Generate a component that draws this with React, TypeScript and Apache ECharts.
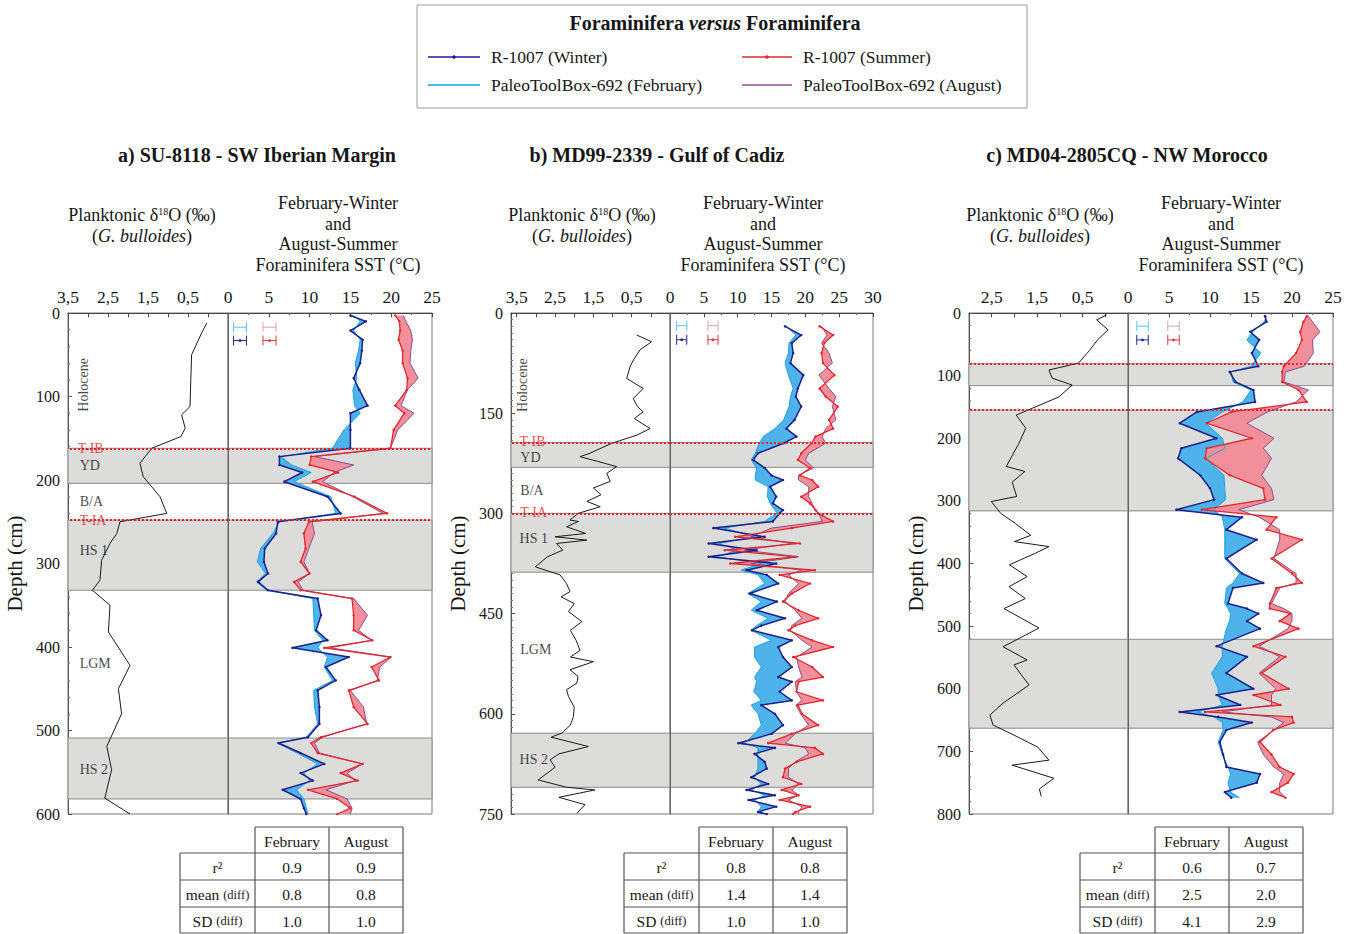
import React, { useEffect, useRef } from "react";
import * as echarts from "echarts";

const FONT = "'Liberation Serif', 'Times New Roman', Times, serif";

// ---------------- Panel a : SU-8118 ----------------
const sstDepthA = [3, 10, 21, 32, 45, 60, 78, 92, 111, 120, 140, 162, 172, 182, 191, 202, 220, 240, 250, 264, 282, 298, 312, 322, 332, 342, 362, 380, 392, 401, 412, 424, 440, 452, 472, 492, 508, 515, 527, 540, 551, 560, 571, 582, 593, 600];
const winterA = [15.0, 16.9, 15.0, 16.5, 16.4, 16.2, 15.4, 16.1, 17.1, 15.0, 15.0, 15.0, 6.3, 6.3, 9.1, 6.9, 12.2, 13.8, 6.1, 5.9, 4.5, 4.4, 4.9, 3.7, 4.9, 11.0, 11.4, 10.8, 12.2, 7.9, 14.8, 12.0, 13.2, 11.0, 11.2, 11.2, 9.8, 6.2, 8.9, 11.8, 8.9, 10.4, 6.7, 8.9, 9.3, 9.6];
const febA = [15.4, 16.2, 15.4, 16.2, 16.0, 15.6, 15.8, 15.3, 15.5, 16.2, 14.2, 12.8, 6.5, 7.8, 10.2, 8.1, 12.6, 13.2, 6.3, 5.5, 4.0, 3.6, 4.6, 3.5, 4.7, 10.4, 10.5, 10.6, 11.6, 11.0, 12.2, 11.8, 12.8, 10.5, 10.6, 11.0, 9.6, 6.0, 8.5, 11.0, 9.3, 10.0, 8.4, 9.3, 9.6, 9.8];
const summerA = [20.5, 21.0, 21.1, 20.9, 21.4, 21.4, 22.0, 21.9, 20.5, 21.6, 20.3, 19.9, 10.2, 10.0, 13.5, 10.4, 15.5, 19.5, 9.9, 9.3, 9.5, 8.9, 10.0, 8.1, 8.9, 15.2, 15.4, 15.4, 17.7, 11.8, 19.9, 17.6, 18.5, 14.8, 15.4, 17.1, 11.4, 10.2, 11.0, 16.5, 13.8, 15.9, 9.8, 13.4, 15.0, 13.4];
const augustA = [21.5, 21.8, 22.4, 22.6, 22.4, 22.3, 23.3, 22.0, 21.2, 22.8, 20.8, 19.9, 10.6, 15.4, 13.0, 11.6, 15.3, 19.0, 10.3, 10.6, 9.9, 9.3, 10.0, 8.6, 9.2, 15.4, 17.1, 16.0, 17.6, 12.5, 20.0, 18.6, 18.3, 15.0, 16.6, 17.0, 11.6, 10.6, 11.2, 16.5, 14.6, 15.6, 12.0, 14.6, 15.2, 15.0];
const d18DepthA = [12, 24, 50, 80, 112, 122, 138, 148, 162, 180, 196, 220, 240, 250, 264, 276, 296, 320, 332, 350, 382, 422, 450, 480, 519, 547, 581, 600];
const d18A = [0.03, 0.16, 0.41, 0.43, 0.45, 0.66, 0.57, 0.68, 1.41, 1.70, 1.62, 1.20, 1.03, 2.20, 2.28, 2.45, 2.66, 2.70, 2.89, 2.45, 2.49, 1.95, 2.24, 2.16, 2.53, 2.41, 2.58, 1.95];
const bandsA = [[162, 204], [248, 332], [509, 582]];
const terminationsA = [162, 248];
const bandLabelsA = ["Holocene", "T-IB", "YD", "B/A", "T-IA", "HS 1", "LGM", "HS 2"];
const bandLabelDepthA = [86, 162, 183, 226, 249, 284, 420, 547];
const bandLabelXA = [3.125, 3.27, 3.22, 3.22, 3.22, 3.22, 3.22, 3.22];

// ---------------- Panel b : MD99-2339 ----------------
const sstDepthB = [20, 33, 45, 60, 75, 93, 113, 125, 140, 160, 173, 185, 195, 210, 220, 232, 243, 250, 260, 275, 285, 295, 300, 312, 322, 335, 345, 355, 365, 375, 385, 392, 405, 420, 432, 445, 457, 468, 475, 490, 500, 515, 530, 545, 552, 567, 580, 587, 600, 617, 630, 644, 651, 660, 672, 682, 695, 705, 714, 722, 729, 739, 747, 750];
const winterB = [17.0, 19.4, 18.0, 18.2, 17.8, 19.7, 18.9, 18.6, 19.4, 18.4, 17.2, 18.7, 16.8, 13.0, 12.3, 14.0, 15.0, 16.7, 14.8, 15.7, 15.2, 16.7, 16.2, 15.2, 6.4, 14.0, 5.7, 12.8, 5.7, 15.7, 11.3, 14.3, 16.0, 11.8, 15.8, 12.8, 17.0, 13.5, 12.1, 18.0, 16.0, 16.7, 18.0, 16.0, 18.0, 16.2, 18.0, 13.5, 15.5, 16.7, 15.0, 10.1, 15.5, 12.5, 14.0, 14.3, 12.0, 14.5, 11.3, 15.5, 11.6, 15.7, 13.0, 14.3];
const febB = [17.2, 18.6, 17.6, 17.5, 17.0, 17.5, 18.2, 17.8, 17.6, 16.8, 15.5, 13.8, 13.2, 12.6, 12.0, 12.8, 12.6, 12.6, 14.5, 14.4, 14.8, 15.5, 15.8, 14.0, 8.0, 12.5, 7.2, 10.0, 7.0, 13.5, 10.5, 13.0, 14.0, 11.5, 13.5, 12.0, 14.5, 12.8, 12.0, 15.0, 12.5, 12.5, 13.5, 12.5, 12.8, 12.4, 13.5, 12.0, 13.0, 13.5, 12.5, 11.0, 13.0, 13.0, 13.0, 13.0, 12.5, 13.5, 12.0, 14.0, 12.5, 13.5, 13.0, 13.5];
const summerB = [22.1, 24.1, 22.8, 22.4, 22.6, 24.3, 22.1, 23.0, 24.8, 23.5, 24.1, 21.5, 20.9, 19.4, 18.9, 20.7, 19.2, 21.0, 21.9, 19.4, 20.7, 21.5, 21.9, 24.1, 18.0, 9.6, 19.2, 8.1, 18.5, 8.9, 21.4, 16.2, 20.7, 18.0, 16.7, 19.0, 21.9, 18.5, 17.5, 21.0, 24.1, 18.2, 21.0, 22.6, 19.0, 18.7, 22.6, 18.9, 19.5, 21.9, 18.0, 14.5, 21.4, 22.6, 18.7, 17.0, 16.7, 19.4, 16.5, 19.0, 16.2, 20.7, 18.5, 18.2];
const augustB = [22.4, 23.2, 22.4, 23.5, 24.0, 22.0, 23.5, 24.5, 24.0, 24.5, 23.0, 22.5, 23.0, 20.5, 20.0, 21.2, 19.0, 19.0, 20.5, 20.5, 21.0, 21.5, 22.0, 22.5, 15.0, 12.0, 18.0, 11.0, 19.0, 12.0, 19.5, 17.5, 19.0, 17.5, 17.0, 18.5, 19.5, 18.0, 17.8, 19.5, 21.0, 18.7, 19.0, 19.5, 18.5, 18.7, 19.5, 18.6, 19.3, 20.5, 18.5, 17.0, 20.0, 20.5, 18.5, 17.5, 17.5, 19.0, 18.0, 19.0, 17.5, 19.5, 19.0, 19.0];
const d18DepthB = [33, 43, 55, 70, 80, 98, 113, 128, 140, 148, 158, 173, 183, 195, 210, 215, 222, 230, 240, 252, 262, 272, 282, 290, 300, 310, 312, 320, 330, 335, 340, 345, 355, 365, 380, 392, 405, 417, 425, 435, 447, 462, 475, 490, 505, 515, 522, 534, 544, 554, 564, 574, 590, 604, 617, 629, 635, 649, 660, 669, 680, 699, 710, 714, 725, 736, 749];
const d18B = [0.37, -0.02, 0.28, 0.45, 0.54, 0.63, 0.2, 0.46, 0.35, 0.2, 0.43, 0.02, 0.37, 1.02, 1.59, 1.85, 1.4, 0.89, 1.15, 1.06, 1.5, 1.3, 1.67, 1.32, 1.9, 2.11, 1.89, 2.2, 1.7, 2.5, 1.67, 2.46, 2.3, 2.7, 3.02, 2.37, 2.2, 2.11, 2.34, 2.0, 2.15, 1.8, 2.1, 1.95, 1.85, 2.1, 1.5, 2.11, 1.9, 1.93, 2.2, 2.15, 2.0, 2.02, 2.1, 2.33, 2.6, 1.63, 2.4, 2.63, 2.5, 2.94, 2.2, 1.46, 2.4, 1.72, 1.93];
const bandsB = [[194, 231], [300, 388], [629, 710]];
const terminationsB = [194, 300];
const bandLabelsB = ["Holocene", "T-IB", "YD", "B/A", "T-IA", "HS 1", "LGM", "HS 2"];
const bandLabelDepthB = [108, 193, 216, 266, 299, 337, 504, 668];
const bandLabelXB = [3.34, 3.44, 3.42, 3.42, 3.42, 3.44, 3.42, 3.44];

// ---------------- Panel c : MD04-2805CQ ----------------
const sstDepthC = [5, 14, 30, 43, 64, 85, 94, 110, 123, 142, 158, 176, 200, 216, 232, 259, 280, 298, 314, 326, 346, 362, 392, 416, 431, 439, 464, 472, 480, 492, 504, 532, 549, 575, 600, 610, 626, 637, 645, 654, 666, 685, 705, 725, 736, 750, 765, 774];
const winterC = [16.7, 16.9, 14.9, 16.0, 15.1, 15.9, 12.4, 13.1, 15.3, 15.5, 8.4, 6.3, 10.8, 6.5, 6.1, 8.8, 10.0, 10.5, 5.9, 13.9, 12.0, 15.7, 12.0, 13.9, 16.5, 12.8, 12.2, 14.5, 15.9, 14.5, 16.1, 10.8, 14.5, 12.0, 15.3, 10.8, 13.7, 6.3, 11.0, 15.1, 12.0, 11.2, 11.6, 12.0, 16.1, 15.7, 11.8, 12.6];
const febC = [16.9, 16.6, 15.2, 14.5, 16.2, 15.0, 12.6, 12.8, 15.0, 14.0, 11.5, 9.5, 11.5, 11.8, 9.5, 11.7, 11.8, 11.9, 10.5, 11.5, 11.8, 11.8, 11.8, 13.6, 12.8, 12.0, 11.8, 12.2, 12.5, 12.4, 12.0, 11.5, 11.5, 10.2, 11.0, 11.0, 11.5, 8.5, 10.5, 11.5, 11.6, 11.0, 11.5, 12.2, 12.5, 12.2, 12.5, 13.6];
const summerC = [21.8, 21.4, 21.0, 21.2, 20.5, 19.0, 18.8, 18.8, 20.8, 21.8, 12.6, 9.6, 15.1, 9.6, 9.4, 12.4, 16.5, 16.7, 9.0, 18.1, 16.9, 21.2, 17.5, 20.0, 21.2, 18.1, 17.3, 17.3, 19.8, 18.5, 20.8, 15.3, 19.2, 16.3, 19.6, 15.3, 18.6, 9.4, 20.0, 20.2, 17.7, 16.1, 17.5, 18.5, 20.2, 19.5, 17.5, 19.2];
const augustC = [22.0, 22.5, 23.4, 22.5, 22.6, 21.5, 19.2, 19.0, 22.0, 20.5, 17.0, 14.5, 17.8, 16.5, 17.5, 16.3, 17.5, 17.8, 13.5, 16.0, 18.5, 18.5, 17.8, 20.5, 20.5, 18.5, 17.5, 19.0, 20.0, 20.0, 19.5, 16.0, 18.5, 16.0, 18.0, 17.5, 17.5, 11.5, 17.5, 19.0, 17.8, 15.8, 16.5, 17.8, 19.0, 18.5, 18.5, 19.2];
const d18DepthC = [3, 11, 27, 43, 60, 80, 91, 104, 115, 134, 163, 184, 208, 245, 253, 270, 293, 301, 320, 336, 355, 365, 373, 384, 402, 421, 437, 456, 472, 503, 533, 554, 562, 594, 623, 642, 658, 674, 693, 714, 722, 743, 760, 772];
const d18C = [-0.03, 0.19, -0.06, 0.17, 0.35, 0.59, 1.24, 1.17, 0.73, 1.02, 1.96, 1.75, 1.9, 2.18, 1.77, 2.05, 1.95, 2.51, 2.3, 1.98, 1.64, 2.0, 1.24, 1.55, 2.11, 1.72, 2.12, 1.76, 2.23, 1.46, 2.25, 1.72, 2.01, 1.68, 2.25, 2.54, 2.47, 2.01, 1.49, 1.24, 2.05, 1.13, 1.45, 1.41];
const bandsC = [[81, 116], [155, 316], [521, 663]];
const terminationsC = [81, 155];
const bandLabelsC: string[] = [];
const bandLabelDepthC: number[] = [];
const bandLabelXC: number[] = [];

// error-bar keys (centre °C, half width °C, depth cm): light blue, pink, dark blue, red
const errCentreA = [1.47, 5.09, 1.47, 5.09];
const errHalfA = [0.8, 0.8, 0.8, 0.8];
const errDepthA = [17, 17, 33, 33];
const errCentreB = [1.73, 6.35, 1.73, 6.35];
const errHalfB = [0.75, 0.75, 0.75, 0.75];
const errDepthB = [19, 19, 40, 40];
const errCentreC = [1.77, 5.55, 1.77, 5.55];
const errHalfC = [0.7, 0.7, 0.7, 0.7];
const errDepthC = [21, 21, 43, 43];

// ---------------- texts ----------------
const panelTitles = ["a) SU-8118 - SW Iberian Margin", "b) MD99-2339 - Gulf of Cadiz", "c) MD04-2805CQ - NW Morocco"];
const legendNames = ["R-1007 (Winter)", "R-1007 (Summer)", "PaleoToolBox-692 (February)", "PaleoToolBox-692 (August)"];
const tableCols = ["February", "August"];
const tableFebA = ["0.9", "0.8", "1.0"];
const tableAugA = ["0.9", "0.8", "1.0"];
const tableFebB = ["0.8", "1.4", "1.0"];
const tableAugB = ["0.8", "1.4", "1.0"];
const tableFebC = ["0.6", "2.5", "4.1"];
const tableAugC = ["0.7", "2.0", "2.9"];

const COL = {
  winter: "#1d2088",
  feb: "#1ba1e2",
  summer: "#e5262d",
  aug: "#8b4c91",
  blueFill: "#4db3ea",
  pinkFill: "#f18f9a",
  band: "#dcdcda",
  bandBorder: "#8c8c8c",
  red: "#e5262d",
  text: "#161616",
};
const errColors = ["#5fc2ee", "#d9a5ae", "#25288c", "#e5353b"];

const panels = [
  {
    dL: 68, dW: 160, sW: 204, dMax: 3.5, sMax: 25, depthMax: 600, depthInt: 100, minorSplit: 5,
    sstDepth: sstDepthA, winter: winterA, feb: febA, summer: summerA, aug: augustA,
    d18Depth: d18DepthA, d18: d18A, bands: bandsA, terms: terminationsA,
    labels: bandLabelsA, labelDepth: bandLabelDepthA, labelX: bandLabelXA,
    errC: errCentreA, errH: errHalfA, errD: errDepthA,
    titleX: 257, dTitleX: 142, sTitleX: 338, tableX: 180, tFeb: tableFebA, tAug: tableAugA,
  },
  {
    dL: 511, dW: 159, sW: 203, dMax: 3.65, sMax: 30, depthMax: 750, depthInt: 150, minorSplit: 15,
    sstDepth: sstDepthB, winter: winterB, feb: febB, summer: summerB, aug: augustB,
    d18Depth: d18DepthB, d18: d18B, bands: bandsB, terms: terminationsB,
    labels: bandLabelsB, labelDepth: bandLabelDepthB, labelX: bandLabelXB,
    errC: errCentreB, errH: errHalfB, errD: errDepthB,
    titleX: 657, dTitleX: 582, sTitleX: 763, tableX: 624, tFeb: tableFebB, tAug: tableAugB,
  },
  {
    dL: 969, dW: 159, sW: 205, dMax: 3.0, sMax: 25, depthMax: 800, depthInt: 100, minorSplit: 5,
    sstDepth: sstDepthC, winter: winterC, feb: febC, summer: summerC, aug: augustC,
    d18Depth: d18DepthC, d18: d18C, bands: bandsC, terms: terminationsC,
    labels: bandLabelsC, labelDepth: bandLabelDepthC, labelX: bandLabelXC,
    errC: errCentreC, errH: errHalfC, errD: errDepthC,
    titleX: 1127, dTitleX: 1040, sTitleX: 1221, tableX: 1080, tFeb: tableFebC, tAug: tableAugC,
  },
];

const TOP = 313;
const HEIGHT = 501;

const d18Fmt = (v: number) => {
  const r = Math.round(v * 10) / 10;
  return [0.5, 1.5, 2.5, 3.5].indexOf(r) >= 0 ? String(r).replace(".", ",") : "";
};

function profile(xi: number, depths: number[], vals: number[], color: string, width: number, dots: boolean, z: number) {
  return {
    type: "line",
    xAxisIndex: xi,
    yAxisIndex: xi,
    data: depths.map((d, i) => [vals[i], d]),
    symbol: dots ? "circle" : "none",
    symbolSize: 2.5,
    showSymbol: dots,
    showAllSymbol: true,
    lineStyle: { color, width },
    itemStyle: { color },
    z,
    silent: true,
    clip: true,
  };
}

function fillBetween(xi: number, depths: number[], a: number[], b: number[], color: string) {
  return {
    type: "custom",
    xAxisIndex: xi,
    yAxisIndex: xi,
    coordinateSystem: "cartesian2d",
    data: [[a[0], depths[0]]],
    encode: { x: 0, y: 1 },
    z: 2,
    silent: true,
    clip: true,
    renderItem: (_p: any, api: any) => {
      const pts: number[][] = [];
      for (let i = 0; i < depths.length; i++) pts.push(api.coord([a[i], depths[i]]));
      for (let i = depths.length - 1; i >= 0; i--) pts.push(api.coord([b[i], depths[i]]));
      return { type: "polygon", shape: { points: pts }, style: { fill: color, stroke: "none" } };
    },
  };
}

function errBars(xi: number, centres: number[], halves: number[], depths: number[]) {
  return {
    type: "custom",
    xAxisIndex: xi,
    yAxisIndex: xi,
    coordinateSystem: "cartesian2d",
    data: centres.map((c, i) => [c, depths[i], halves[i], i]),
    encode: { x: 0, y: 1 },
    z: 6,
    silent: true,
    renderItem: (_p: any, api: any) => {
      const c = api.value(0), d = api.value(1), h = api.value(2), k = api.value(3);
      const p0 = api.coord([c - h, d]);
      const p1 = api.coord([c + h, d]);
      const pc = api.coord([c, d]);
      const col = errColors[k];
      const st = { stroke: col, lineWidth: 1 };
      const children: any[] = [
        { type: "line", shape: { x1: p0[0], y1: p0[1], x2: p1[0], y2: p1[1] }, style: st },
        { type: "line", shape: { x1: p0[0], y1: p0[1] - 5, x2: p0[0], y2: p0[1] + 5 }, style: st },
        { type: "line", shape: { x1: p1[0], y1: p1[1] - 5, x2: p1[0], y2: p1[1] + 5 }, style: st },
      ];
      if (k >= 2) children.push({ type: "circle", shape: { cx: pc[0], cy: pc[1], r: 1.4 }, style: { fill: col } });
      return { type: "group", children };
    },
  };
}

function bandSeries(xi: number, bands: number[][], terms: number[]) {
  return {
    type: "line",
    xAxisIndex: xi,
    yAxisIndex: xi,
    data: [],
    z: 1,
    silent: true,
    markArea: {
      silent: true,
      itemStyle: { color: COL.band, borderColor: COL.bandBorder, borderWidth: 1 },
      label: { show: false },
      data: bands.map((b) => [{ yAxis: b[0] }, { yAxis: b[1] }]),
    },
    markLine: {
      silent: true,
      symbol: ["none", "none"],
      label: { show: false },
      lineStyle: { color: COL.red, type: "dotted", width: 2 },
      data: terms.map((t) => ({ yAxis: t })),
    },
  };
}

function labelSeries(xi: number, texts: string[], depths: number[], xs: number[]) {
  return {
    type: "scatter",
    xAxisIndex: xi,
    yAxisIndex: xi,
    symbol: "circle",
    symbolSize: 1,
    itemStyle: { color: "rgba(0,0,0,0)" },
    z: 7,
    silent: true,
    data: texts.map((t, i) => ({
      value: [xs[i], depths[i]],
      label: {
        show: true,
        formatter: t,
        position: t === "Holocene" ? "inside" : "right",
        distance: 0,
        rotate: t === "Holocene" ? 90 : 0,
        align: t === "Holocene" ? "center" : "left",
        verticalAlign: "middle",
        color: t.indexOf("T-") === 0 ? COL.red : COL.text,
        fontFamily: FONT,
        fontSize: 14,
      },
    })),
  };
}

function txt(x: number, y: number, text: string, extra: any = {}) {
  return {
    type: "text",
    x,
    y,
    silent: true,
    style: { text, fontFamily: FONT, fontSize: 17, fill: COL.text, align: "center", verticalAlign: "middle", ...extra },
  };
}

function hline(x1: number, x2: number, y: number, color = "#555") {
  return { type: "line", silent: true, shape: { x1, y1: y, x2, y2: y }, style: { stroke: color, lineWidth: 1.2 } };
}
function vline(x: number, y1: number, y2: number, color = "#555") {
  return { type: "line", silent: true, shape: { x1: x, y1, x2: x, y2 }, style: { stroke: color, lineWidth: 1.2 } };
}

function table(x0: number, feb: string[], aug: string[]) {
  const c1 = x0 + 75, c2 = c1 + 74, c3 = c2 + 74;
  const ys = [827, 853, 880, 907, 933];
  const els: any[] = [];
  els.push(hline(c1, c3, ys[0]));
  [c1, c2, c3].forEach((x) => els.push(vline(x, ys[0], ys[1])));
  for (let r = 1; r < 5; r++) els.push(hline(x0, c3, ys[r]));
  [x0, c1, c2, c3].forEach((x) => els.push(vline(x, ys[1], ys[4])));
  els.push(txt((c1 + c2) / 2, 841, tableCols[0], { fontSize: 15.5 }));
  els.push(txt((c2 + c3) / 2, 841, tableCols[1], { fontSize: 15.5 }));
  const rowLab = ["r²", "mean {s|(diff)}", "SD {s|(diff)}"];
  const rich = { s: { fontFamily: FONT, fontSize: 12.5, fill: COL.text } };
  for (let r = 0; r < 3; r++) {
    const yc = (ys[r + 1] + ys[r + 2]) / 2 + 1;
    els.push(txt((x0 + c1) / 2, yc, rowLab[r], { fontSize: 15.5, rich }));
    els.push(txt((c1 + c2) / 2, yc, feb[r], { fontSize: 15.5 }));
    els.push(txt((c2 + c3) / 2, yc, aug[r], { fontSize: 15.5 }));
  }
  return els;
}

function buildOption() {
  const grid: any[] = [];
  const xAxis: any[] = [];
  const yAxis: any[] = [];
  const series: any[] = [];
  const graphic: any[] = [];

  panels.forEach((p, k) => {
    const gi = k * 2;
    const gs = k * 2 + 1;
    grid.push({ left: p.dL, top: TOP, width: p.dW, height: HEIGHT, show: true, borderColor: "#7a7a7a", borderWidth: 1 });
    grid.push({ left: p.dL + p.dW, top: TOP, width: p.sW, height: HEIGHT, show: true, borderColor: "#7a7a7a", borderWidth: 1 });

    const axLabel = { fontFamily: FONT, fontSize: 17.5, color: COL.text, margin: 7 };
    xAxis.push({
      gridIndex: gi, type: "value", position: "top", min: -0.5, max: p.dMax, interval: 0.5, inverse: true,
      axisLine: { show: true, onZero: false, lineStyle: { color: "#444" } },
      axisTick: { show: true, inside: true, length: 4, lineStyle: { color: "#444" } },
      splitLine: { show: false },
      axisLabel: { ...axLabel, formatter: d18Fmt, showMinLabel: true, showMaxLabel: true },
    });
    xAxis.push({
      gridIndex: gs, type: "value", position: "top", min: 0, max: p.sMax, interval: 5,
      axisLine: { show: true, onZero: false, lineStyle: { color: "#444" } },
      axisTick: { show: true, inside: true, length: 4, lineStyle: { color: "#444" } },
      minorTick: { show: true, splitNumber: 2, length: 2, lineStyle: { color: "#666" } },
      splitLine: { show: false },
      axisLabel: { ...axLabel, showMinLabel: true, showMaxLabel: true },
    });
    yAxis.push({
      gridIndex: gi, type: "value", inverse: true, min: 0, max: p.depthMax, interval: p.depthInt, position: "left",
      name: "Depth (cm)", nameLocation: "middle", nameRotate: 90, nameGap: 43,
      nameTextStyle: { fontFamily: FONT, fontSize: 21, color: COL.text },
      axisLine: { show: true, onZero: false, lineStyle: { color: "#555" } },
      axisTick: { show: true, inside: true, length: 4, lineStyle: { color: "#555" } },
      minorTick: { show: true, splitNumber: p.minorSplit, length: 2, lineStyle: { color: "#777" } },
      splitLine: { show: false },
      axisLabel: { fontFamily: FONT, fontSize: 16, color: COL.text, margin: 8, showMinLabel: true, showMaxLabel: true },
    });
    yAxis.push({
      gridIndex: gs, type: "value", inverse: true, min: 0, max: p.depthMax, interval: p.depthInt, position: "left", z: 5,
      axisLine: { show: true, onZero: false, lineStyle: { color: "#666" } },
      axisTick: { show: false },
      axisLabel: { show: false },
      splitLine: { show: false },
    });

    series.push(bandSeries(gi, p.bands, p.terms));
    series.push(bandSeries(gs, p.bands, p.terms));
    series.push(profile(gi, p.d18Depth, p.d18, "#1a1a1a", 1, false, 4));
    if (p.labels.length) series.push(labelSeries(gi, p.labels, p.labelDepth, p.labelX));
    series.push(fillBetween(gs, p.sstDepth, p.winter, p.feb, COL.blueFill));
    series.push(fillBetween(gs, p.sstDepth, p.summer, p.aug, COL.pinkFill));
    series.push(profile(gs, p.sstDepth, p.feb, COL.feb, 1, false, 3));
    series.push(profile(gs, p.sstDepth, p.aug, COL.aug, 1, false, 3));
    series.push(profile(gs, p.sstDepth, p.winter, COL.winter, 1.5, true, 4));
    series.push(profile(gs, p.sstDepth, p.summer, COL.summer, 1.3, true, 4));
    series.push(errBars(gs, p.errC, p.errH, p.errD));

    // titles
    graphic.push(txt(p.titleX, 155, panelTitles[k], { fontSize: 20, fontWeight: "bold" }));
    graphic.push(
      txt(p.dTitleX, 215, "Planktonic δ{sup|18}O (‰)", {
        fontSize: 18,
        rich: { sup: { fontFamily: FONT, fontSize: 10, fill: COL.text, verticalAlign: "top" } },
      })
    );
    graphic.push(
      txt(p.dTitleX, 236, "({i|G. bulloides})", {
        fontSize: 18,
        rich: { i: { fontFamily: FONT, fontSize: 18, fontStyle: "italic", fill: COL.text } },
      })
    );
    graphic.push(
      txt(p.sTitleX, 234, "February-Winter\nand\nAugust-Summer\nForaminifera SST (°C)", { fontSize: 18, lineHeight: 20.5 })
    );
    table(p.tableX, p.tFeb, p.tAug).forEach((e) => graphic.push(e));
  });

  // legend box
  graphic.push({ type: "rect", silent: true, shape: { x: 417, y: 5, width: 610, height: 103 }, style: { fill: "#fff", stroke: "#9a9a9a", lineWidth: 1 } });
  graphic.push(
    txt(715, 23, "{b|Foraminifera }{bi|versus}{b| Foraminifera}", {
      rich: {
        b: { fontFamily: FONT, fontSize: 20, fontWeight: "bold", fill: COL.text },
        bi: { fontFamily: FONT, fontSize: 20, fontWeight: "bold", fontStyle: "italic", fill: COL.text },
      },
    })
  );
  const legendRows = [
    { x1: 428, x2: 480, y: 57, col: COL.winter, dot: true, tx: 491, name: legendNames[0] },
    { x1: 742, x2: 792, y: 57, col: COL.summer, dot: true, tx: 803, name: legendNames[1] },
    { x1: 428, x2: 480, y: 85, col: COL.feb, dot: false, tx: 491, name: legendNames[2] },
    { x1: 742, x2: 792, y: 85, col: COL.aug, dot: false, tx: 803, name: legendNames[3] },
  ];
  legendRows.forEach((r) => {
    graphic.push({ type: "line", silent: true, shape: { x1: r.x1, y1: r.y, x2: r.x2, y2: r.y }, style: { stroke: r.col, lineWidth: 1.5 } });
    if (r.dot) graphic.push({ type: "circle", silent: true, shape: { cx: (r.x1 + r.x2) / 2, cy: r.y, r: 1.8 }, style: { fill: r.col } });
    graphic.push(txt(r.tx, r.y, r.name, { align: "left", fontSize: 17.5 }));
  });

  return {
    animation: false,
    backgroundColor: "#ffffff",
    grid,
    xAxis,
    yAxis,
    series,
    graphic: { elements: graphic },
  };
}

export default function App() {
  const ref = useRef<HTMLDivElement>(null);
  useEffect(() => {
    if (!ref.current) return;
    const chart = echarts.init(ref.current, null, { renderer: "svg" });
    chart.setOption(buildOption() as any);
    return () => chart.dispose();
  }, []);
  return (
    <div
      ref={ref}
      style={{ position: "absolute", left: 0, top: 0, width: 1355, height: 934, background: "#fff" }}
    />
  );
}
